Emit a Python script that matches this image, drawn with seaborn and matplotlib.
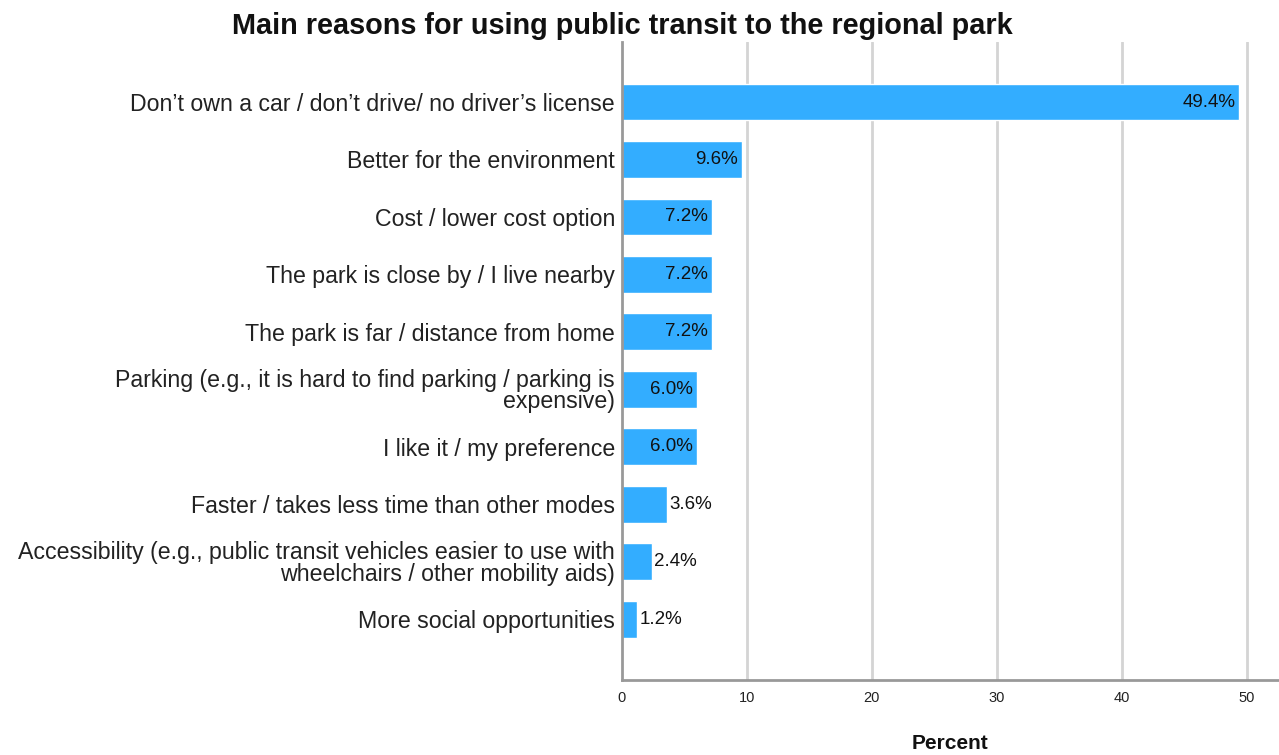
import matplotlib
matplotlib.use("Agg")
import matplotlib.pyplot as plt
import seaborn as sns
import pandas as pd

reasons = [
    "Don\u2019t own a car / don\u2019t drive/ no driver\u2019s license",
    "Better for the environment",
    "Cost / lower cost option",
    "The park is close by / I live nearby",
    "The park is far / distance from home",
    "Parking (e.g., it is hard to find parking / parking is\nexpensive)",
    "I like it / my preference",
    "Faster / takes less time than other modes",
    "Accessibility (e.g., public transit vehicles easier to use with\nwheelchairs / other mobility aids)",
    "More social opportunities",
]
percent = [49.4, 9.6, 7.2, 7.2, 7.2, 6.0, 6.0, 3.6, 2.4, 1.2]
x_ticks = [0, 10, 20, 30, 40, 50]

df = pd.DataFrame({"reason": reasons, "percent": percent})

sns.set_theme(style="white")
plt.rcParams["font.family"] = ["Liberation Sans", "DejaVu Sans"]

fig = plt.figure(figsize=(12.79, 7.55), dpi=100)
ax = fig.add_axes([0.4863, 0.0993, 0.5137, 0.8451])

bar_color = "#33adff"
sns.barplot(data=df, y="reason", x="percent", orient="h", color=bar_color,
            saturation=1, width=0.64, ax=ax, zorder=3)

ax.set_xlim(0, 52.6)
ax.set_ylim(len(reasons) - 1 + 1.06, -1.045)
ax.set_xticks(x_ticks)
ax.set_xticklabels([str(t) for t in x_ticks], fontsize=10.5, color="#222222")
ax.tick_params(axis="x", length=0, pad=8)
ax.tick_params(axis="y", length=0, pad=5)
ax.set_yticks(range(len(reasons)))
ax.set_yticklabels(reasons, fontsize=16.7, color="#222222", linespacing=0.92)

for t in x_ticks[1:]:
    ax.axvline(t, color="#d4d4d4", lw=2, zorder=1)

for s in ["top", "right"]:
    ax.spines[s].set_visible(False)
for s in ["left", "bottom"]:
    ax.spines[s].set_color("#999999")
    ax.spines[s].set_linewidth(2)
    ax.spines[s].set_zorder(4)

for i, v in enumerate(percent):
    label = f"{v:.1f}%"
    if v >= 5:
        ax.text(v - 0.3, i, label, ha="right", va="center", fontsize=13.5,
                color="#111111", zorder=5)
    else:
        ax.text(v + 0.2, i, label, ha="left", va="center", fontsize=13.5,
                color="#111111", zorder=5)

ax.set_ylabel("")
ax.set_xlabel("Percent", fontsize=15, fontweight="bold", color="#111111", labelpad=21)
fig.text(0.487, 0.965, "Main reasons for using public transit to the regional park",
         ha="center", va="center", fontsize=20.8, fontweight="bold", color="#111111")

fig.savefig("out.png", dpi=100)
